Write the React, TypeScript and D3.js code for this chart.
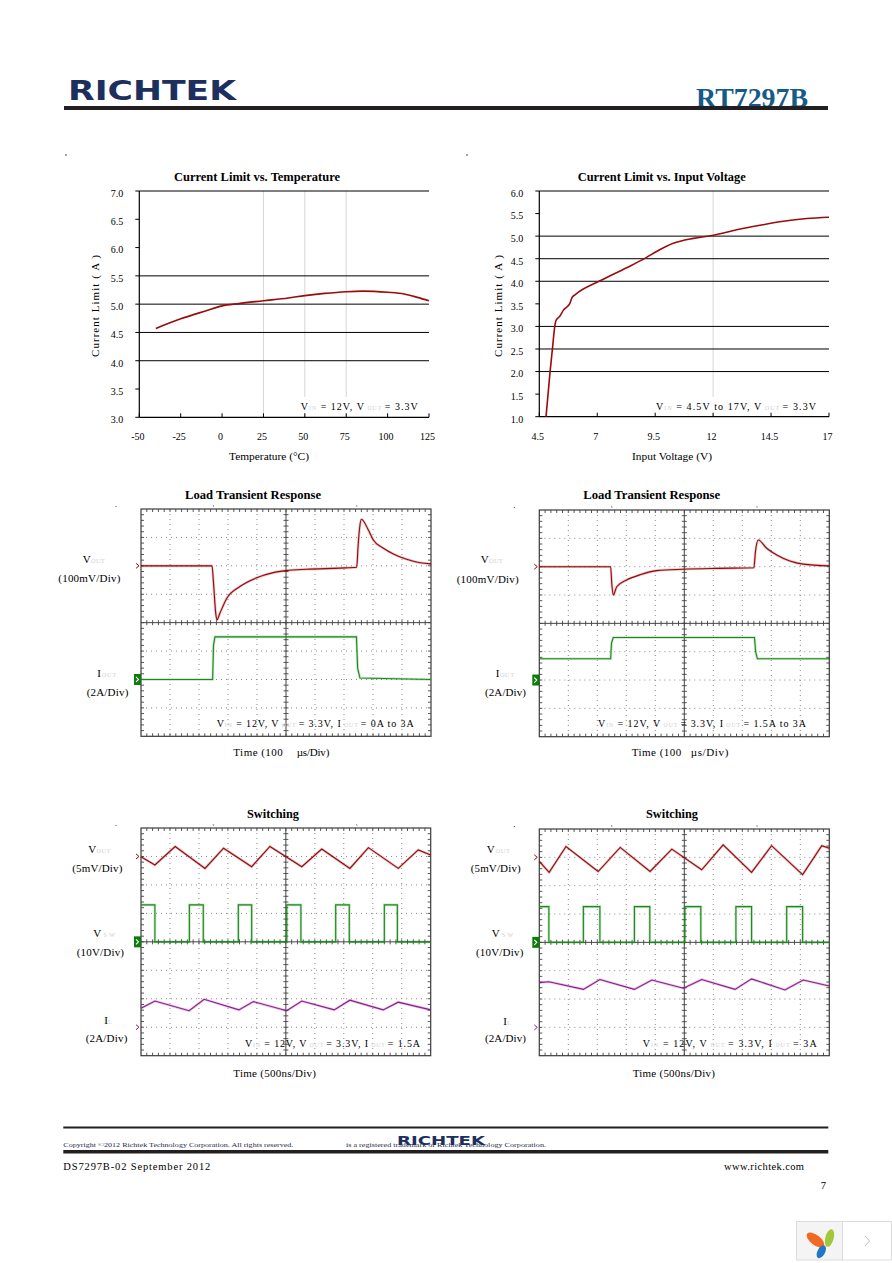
import React, { useEffect } from 'react';
import * as d3 from 'd3';

const SERIF = '"Liberation Serif", "Times New Roman", Times, serif';
const SANS = '"DejaVu Sans", "Liberation Sans", Arial, sans-serif';
const LIGHT = '#cfcfcf';

// ---------- Current Limit vs. Temperature ----------
const tempC = [-40, -25, -10, 0, 10, 25, 40, 50, 62, 75, 85, 100, 110, 118, 125];
const ilimVsTemp = [4.57, 4.74, 4.88, 4.97, 5.01, 5.06, 5.11, 5.15, 5.19, 5.22, 5.23, 5.21, 5.18, 5.12, 5.06];
const tempXTicks = [-50, -25, 0, 25, 50, 75, 100, 125];
const tempYTicks = [3.0, 3.5, 4.0, 4.5, 5.0, 5.5, 6.0, 6.5, 7.0];
const tempGridLevels = [4.0, 4.5, 5.0, 5.5];
const tempGridTemps = [25, 50, 75];

// ---------- Current Limit vs. Input Voltage ----------
const vinV = [4.79, 4.96, 5.08, 5.15, 5.22, 5.39, 5.54, 5.82, 5.91, 6.04, 7.12, 8.27, 9.13, 9.56, 10.28, 11.15, 12.01, 13.02, 14.02, 15.03, 16.04, 17.0];
const ilimVsVin = [1.0, 1.97, 2.57, 2.93, 3.13, 3.23, 3.36, 3.51, 3.64, 3.7, 4.01, 4.3, 4.53, 4.66, 4.84, 4.95, 5.02, 5.14, 5.24, 5.33, 5.39, 5.42];
const vinXTicks = [4.5, 7, 9.5, 12, 14.5, 17];
const vinYTicks = [1.0, 1.5, 2.0, 2.5, 3.0, 3.5, 4.0, 4.5, 5.0, 5.5, 6.0];
const vinGridLevels = [2.0, 2.5, 3.0, 4.0, 4.5, 5.0];
const vinGridVolts = [12];

// ---------- Scope traces: [time (div), level (div from bottom)] ----------
const lt1Vout = [[0, 6.0], [2.45, 6.0], [2.5, 5.4], [2.58, 4.3], [2.62, 4.1], [2.72, 4.33], [2.96, 4.86], [3.41, 5.27], [3.99, 5.58], [4.56, 5.76], [5.0, 5.83], [5.71, 5.88], [6.86, 5.92], [7.44, 5.95], [7.48, 6.6], [7.54, 7.35], [7.6, 7.64], [7.84, 7.26], [8.01, 6.91], [8.36, 6.62], [8.7, 6.42], [9.16, 6.23], [9.62, 6.11], [10, 6.07]];
const lt1Iout = [[0, 2.0], [2.47, 2.0], [2.5, 3.2], [2.55, 3.5], [7.43, 3.5], [7.47, 2.4], [7.55, 2.05], [10, 2.0]];
const lt2Vout = [[0, 6.0], [2.46, 6.0], [2.5, 5.4], [2.55, 5.0], [2.67, 5.29], [3.01, 5.53], [3.47, 5.71], [4.05, 5.86], [4.97, 5.91], [6.12, 5.94], [7.4, 5.96], [7.45, 6.5], [7.55, 6.94], [7.84, 6.65], [8.19, 6.41], [8.64, 6.2], [9.1, 6.09], [10, 6.03]];
const lt2Iout = [[0, 2.75], [2.46, 2.75], [2.49, 3.3], [2.55, 3.5], [7.42, 3.5], [7.46, 3.0], [7.52, 2.75], [10, 2.75]];

const sw1Vout = [[0, 6.99], [0.48, 6.7], [1.18, 7.35], [2.21, 6.58], [2.85, 7.29], [3.82, 6.64], [4.45, 7.35], [5.55, 6.64], [6.24, 7.26], [7.21, 6.58], [7.85, 7.31], [8.88, 6.58], [9.57, 7.23], [10, 7.05]];
const sw1Vsw = [[0, 5.3], [0.48, 4.0], [1.67, 5.3], [2.15, 4.0], [3.36, 5.3], [3.82, 4.0], [5.03, 5.3], [5.52, 4.0], [6.72, 5.3], [7.19, 4.0], [8.4, 5.3], [8.85, 4.0], [10, 4.0]];
const sw1IL = [[0, 1.67], [0.48, 1.92], [1.66, 1.58], [2.18, 1.98], [3.38, 1.61], [3.88, 1.9], [5.03, 1.58], [5.55, 1.92], [6.67, 1.61], [7.21, 1.95], [8.36, 1.61], [8.88, 1.88], [10, 1.61]];
const sw2Vout = [[0, 6.86], [0.34, 6.47], [0.92, 7.38], [2.03, 6.5], [2.79, 7.35], [3.82, 6.5], [4.57, 7.29], [5.6, 6.56], [6.34, 7.44], [7.32, 6.47], [8.01, 7.41], [9.08, 6.39], [9.74, 7.41], [10, 7.32]];
const sw2Vsw = [[0, 5.26], [0.33, 4.0], [1.52, 5.26], [2.09, 4.0], [3.28, 5.26], [3.81, 4.0], [5.02, 5.26], [5.57, 4.0], [6.78, 5.26], [7.32, 4.0], [8.53, 5.26], [9.08, 4.0], [10, 4.0]];
const sw2IL = [[0, 2.58], [0.33, 2.61], [1.52, 2.34], [2.09, 2.69], [3.28, 2.34], [3.88, 2.67], [4.97, 2.38], [5.6, 2.69], [6.75, 2.34], [7.32, 2.71], [8.47, 2.32], [9.1, 2.67], [10, 2.46]];

const RED = '#940a0a';
const GREEN = '#1b8a1b';
const PURPLE = '#8e1b8e';

type Part = [string, boolean];

function Lab({ x, y, parts, size = 11, len, anchor = 'start' }: any) {
  return (
    <text x={x} y={y} fontFamily={SERIF} fontSize={size} textAnchor={anchor}
      textLength={len} lengthAdjust={len ? 'spacing' : undefined}>
      {parts.map((p: Part, i: number) => (
        <tspan key={i} fill={p[1] ? LIGHT : '#000'} fontSize={p[1] ? size * 0.58 : size}>{p[0]}</tspan>
      ))}
    </text>
  );
}

function LineChart(p: any) {
  const x = d3.scaleLinear().domain(p.xDomain).range([p.left, p.right]);
  const y = d3.scaleLinear().domain(p.yDomain).range([p.bottom, p.top]);
  const pts = p.xData.map((v: number, i: number) => [v, p.yData[i]]);
  const line = d3.line().x((d: any) => x(d[0])).y((d: any) => y(d[1])).curve(p.curve);
  return (
    <g fontFamily={SERIF}>
      <text x={p.titleX} y={180.5} textAnchor="middle" fontSize={11.5} fontWeight="bold"
        textLength={p.titleLen} lengthAdjust="spacingAndGlyphs">{p.title}</text>
      {p.gridX.map((v: number) => (
        <line key={'gx' + v} x1={x(v)} x2={x(v)} y1={p.top} y2={p.bottom} stroke="#d6d6d6" strokeWidth={1} />
      ))}
      <rect x={p.annotX - 4} y={397} width={p.annotLen + 8} height={16} fill="#fff" />
      {p.gridY.map((v: number) => (
        <line key={'gy' + v} x1={p.left} x2={p.right} y1={y(v)} y2={y(v)} stroke="#000" strokeWidth={1} />
      ))}
      <line x1={p.left} x2={p.right} y1={p.top} y2={p.top} stroke="#000" strokeWidth={1} />
      <line x1={p.left} x2={p.left} y1={p.top} y2={p.bottom} stroke="#000" strokeWidth={1.2} />
      <line x1={p.left} x2={p.right} y1={p.bottom} y2={p.bottom} stroke="#000" strokeWidth={1.2} />
      {p.yTicks.map((v: number) => (
        <g key={'yt' + v}>
          <line x1={p.left - 4} x2={p.left} y1={y(v)} y2={y(v)} stroke="#000" />
          <text x={p.left - 16} y={y(v) + 5.8} fontSize={10} textAnchor="end">{d3.format('.1f')(v)}</text>
        </g>
      ))}
      {p.xTicks.map((v: number) => (
        <g key={'xt' + v}>
          <line x1={x(v)} x2={x(v)} y1={p.bottom - 4} y2={p.bottom} stroke="#000" />
          <text x={x(v) - 1.5} y={440.2} fontSize={10} textAnchor="middle">{String(v)}</text>
        </g>
      ))}
      <path d={line(pts) || ''} fill="none" stroke="#9a0b0b" strokeWidth={1.6} />
      <Lab x={p.annotX} y={410} size={10} len={p.annotLen} parts={p.annot} />
      <text transform={`translate(${p.yTitleX},306) rotate(-90)`} textAnchor="middle" fontSize={11}
        textLength={102} lengthAdjust="spacing">Current  Limit ( A )</text>
      <text x={p.xTitleX} y={460} textAnchor="middle" fontSize={11} textLength={80} lengthAdjust="spacingAndGlyphs">{p.xTitle}</text>
    </g>
  );
}

function Chevron({ x, y, color }: any) {
  return <polyline points={`${x - 5},${y - 2.5} ${x - 2},${y} ${x - 5},${y + 2.5}`} fill="none" stroke={color} strokeWidth={1} />;
}

function GreenBox({ x, y }: any) {
  return (
    <g>
      <rect x={x - 7} y={y - 5.5} width={7} height={11} fill="#0a7d0a" />
      <polyline points={`${x - 5},${y - 2.5} ${x - 2.5},${y} ${x - 5},${y + 2.5}`} fill="none" stroke="#fff" strokeWidth={1.1} />
    </g>
  );
}

function Scope(p: any) {
  const { left, top, w, h } = p;
  const x = d3.scaleLinear().domain([0, 10]).range([left, left + w]);
  const y = d3.scaleLinear().domain([0, 8]).range([top + h, top]);
  const line = d3.line().x((d: any) => x(d[0])).y((d: any) => y(d[1]));
  const divX = d3.range(1, 10);
  const divY = d3.range(1, 8);
  const minorX = d3.range(1, 50).map((i) => i / 5);
  const minorY = d3.range(1, 40).map((i) => i / 5);
  const cx = x(5), cy = y(4);
  return (
    <g>
      {divX.filter((i) => i !== 5).map((i) => (
        <line key={'dx' + i} x1={x(i)} x2={x(i)} y1={top} y2={top + h} stroke="#8a8a8a" strokeWidth={1} strokeDasharray="1 4" />
      ))}
      {divY.filter((i) => i !== 4).map((i) => (
        <line key={'dy' + i} x1={left} x2={left + w} y1={y(i)} y2={y(i)} stroke="#8a8a8a" strokeWidth={1} strokeDasharray="1 4" />
      ))}
      <rect x={left} y={top} width={w} height={h} fill="none" stroke="#3a3a3a" strokeWidth={1.2} />
      <line x1={cx} x2={cx} y1={top} y2={top + h} stroke="#444" strokeWidth={1} />
      <line x1={left} x2={left + w} y1={cy} y2={cy} stroke="#444" strokeWidth={1} />
      {minorX.map((t) => (
        <g key={'mx' + t} stroke="#444" strokeWidth={0.9}>
          <line x1={x(t)} x2={x(t)} y1={top} y2={top + 3} />
          <line x1={x(t)} x2={x(t)} y1={top + h - 3} y2={top + h} />
          <line x1={x(t)} x2={x(t)} y1={cy - 2.5} y2={cy + 2.5} />
        </g>
      ))}
      {minorY.map((t) => (
        <g key={'my' + t} stroke="#444" strokeWidth={0.9}>
          <line x1={left} x2={left + 3} y1={y(t)} y2={y(t)} />
          <line x1={left + w - 3} x2={left + w} y1={y(t)} y2={y(t)} />
          <line x1={cx - 2.5} x2={cx + 2.5} y1={y(t)} y2={y(t)} />
        </g>
      ))}
      {p.traces.map((tr: any, i: number) => {
        const gen = line.curve(tr.step ? d3.curveStepAfter : tr.smooth ? d3.curveMonotoneX : d3.curveLinear);
        const d = gen(tr.data) || '';
        return (
          <g key={'tr' + i}>
            <path d={d} fill="none" stroke={tr.color} strokeOpacity={0.25} strokeWidth={2.6} />
            <path d={d} fill="none" stroke={tr.color} strokeWidth={1.1} />
          </g>
        );
      })}
      {p.markers.map((m: any, i: number) =>
        m.box ? <GreenBox key={'mk' + i} x={left} y={y(m.level)} /> : <Chevron key={'mk' + i} x={left} y={y(m.level)} color={m.color} />
      )}
      {p.trig.map((t: number, i: number) => (
        <line key={'tg' + i} x1={x(t)} x2={x(t) + 0.5} y1={top - 4} y2={top - 2} stroke="#999" />
      ))}
      <circle cx={left - 25} cy={top - 2.5} r={0.6} fill="#333" />
    </g>
  );
}

export default function App() {
  useEffect(() => {
    document.body.style.margin = '0';
  }, []);
  const sub = (s: string): Part => [s, true];
  const n = (s: string): Part => [s, false];
  return (
    <svg width={892} height={1263} viewBox="0 0 892 1263" xmlns="http://www.w3.org/2000/svg"
      style={{ position: 'absolute', left: 0, top: 0, display: 'block' }}>
      <rect width={892} height={1263} fill="#fff" />
      {/* Header */}
      <text x={68} y={99.5} fontFamily={SANS} fontWeight="bold" fontSize={26} fill="#1c2f5e"
        textLength={168} lengthAdjust="spacingAndGlyphs">RICHTEK</text>
      <text x={696} y={106.5} fontFamily={SERIF} fontWeight="bold" fontSize={27} fill="#155b88"
        textLength={112} lengthAdjust="spacingAndGlyphs">RT7297B</text>
      <rect x={64} y={106} width={764} height={4} fill="#231f20" />
      <circle cx={66} cy={155} r={0.7} fill="#000" />
      <circle cx={467} cy={155} r={0.7} fill="#000" />

      <LineChart left={139.3} right={429} top={191} bottom={417.3} xDomain={[-50, 125]} yDomain={[3, 7]}
        xData={tempC} yData={ilimVsTemp} curve={d3.curveMonotoneX}
        xTicks={tempXTicks} yTicks={tempYTicks} gridY={tempGridLevels} gridX={tempGridTemps}
        title="Current Limit vs. Temperature" titleX={257} titleLen={166}
        xTitle="Temperature (°C)" xTitleX={269} yTitleX={99}
        annotX={300.7} annotLen={117}
        annot={[n('V'), sub('IN'), n(' = 12V, V'), sub('  OUT  '), n(' = 3.3V')]} />

      <LineChart left={539.3} right={829} top={191} bottom={416.7} xDomain={[4.5, 17]} yDomain={[1, 6]}
        xData={vinV} yData={ilimVsVin} curve={d3.curveMonotoneX}
        xTicks={vinXTicks} yTicks={vinYTicks} gridY={vinGridLevels} gridX={vinGridVolts}
        title="Current Limit vs. Input Voltage" titleX={661.7} titleLen={168}
        xTitle="Input Voltage (V)" xTitleX={672} yTitleX={502}
        annotX={656} annotLen={160}
        annot={[n('V'), sub('IN'), n(' = 4.5V to 17V, V'), sub('    OUT  '), n(' = 3.3V')]} />

      <g fontFamily={SERIF}>
        <text x={253} y={498.8} textAnchor="middle" fontSize={11.5} fontWeight="bold" textLength={136} lengthAdjust="spacingAndGlyphs">Load Transient Response</text>
        <text x={651.7} y={498.8} textAnchor="middle" fontSize={11.5} fontWeight="bold" textLength={137} lengthAdjust="spacingAndGlyphs">Load Transient Response</text>
        <text x={273} y={817.8} textAnchor="middle" fontSize={11.5} fontWeight="bold" textLength={52} lengthAdjust="spacingAndGlyphs">Switching</text>
        <text x={672} y={817.8} textAnchor="middle" fontSize={11.5} fontWeight="bold" textLength={52} lengthAdjust="spacingAndGlyphs">Switching</text>
      </g>

      <Scope left={141} top={509} w={290} h={227.3}
        traces={[{ data: lt1Vout, color: RED, smooth: true }, { data: lt1Iout, color: GREEN }]}
        markers={[{ level: 6, color: RED }, { level: 2, box: true }]} trig={[2.49, 7.43]} />
      <Scope left={539.3} top={510} w={290} h={226.7}
        traces={[{ data: lt2Vout, color: RED, smooth: true }, { data: lt2Iout, color: GREEN }]}
        markers={[{ level: 6, color: RED }, { level: 2, box: true }]} trig={[2.49, 7.5]} />
      <Scope left={141} top={828} w={289.7} h={227.7}
        traces={[{ data: sw1Vout, color: RED }, { data: sw1Vsw, color: GREEN, step: true }, { data: sw1IL, color: PURPLE }]}
        markers={[{ level: 7, color: RED }, { level: 4, box: true }, { level: 1, color: PURPLE }]} trig={[2.49, 7.44]} />
      <Scope left={539.3} top={829} w={290} h={226.7}
        traces={[{ data: sw2Vout, color: RED }, { data: sw2Vsw, color: GREEN, step: true }, { data: sw2IL, color: PURPLE }]}
        markers={[{ level: 7, color: RED }, { level: 4, box: true }, { level: 1, color: PURPLE }]} trig={[2.49, 7.5]} />

      {/* Scope side labels */}
      <Lab x={82.7} y={563} parts={[n('V'), sub('OUT')]} len={22} />
      <Lab x={58.3} y={581.5} parts={[n('(100mV/Div)')]} len={62} />
      <Lab x={97.3} y={676.5} parts={[n('I'), sub('OUT')]} len={19} />
      <Lab x={86.7} y={695.5} parts={[n('(2A/Div)')]} len={41.6} />
      <Lab x={480.7} y={563} parts={[n('V'), sub('OUT')]} len={22} />
      <Lab x={456.7} y={582.5} parts={[n('(100mV/Div)')]} len={62} />
      <Lab x={495.7} y={676.5} parts={[n('I'), sub('OUT')]} len={18.5} />
      <Lab x={485} y={695.5} parts={[n('(2A/Div)')]} len={41} />

      <Lab x={88.3} y={853} parts={[n('V'), sub('OUT')]} len={22} />
      <Lab x={72.3} y={872} parts={[n('(5mV/Div)')]} len={50} />
      <Lab x={93.3} y={937} parts={[n('V'), sub('SW')]} len={21.7} />
      <Lab x={76.7} y={956.3} parts={[n('(10V/Div)')]} len={47.3} />
      <Lab x={104.3} y={1023.5} parts={[n('I'), sub('L')]} />
      <Lab x={85.7} y={1042} parts={[n('(2A/Div)')]} len={41.6} />
      <Lab x={486.7} y={853} parts={[n('V'), sub('OUT')]} len={23.3} />
      <Lab x={470.7} y={872} parts={[n('(5mV/Div)')]} len={50} />
      <Lab x={491.7} y={937} parts={[n('V'), sub('SW')]} len={21.7} />
      <Lab x={476} y={956.3} parts={[n('(10V/Div)')]} len={47.3} />
      <Lab x={503.3} y={1024.5} parts={[n('I'), sub('L')]} />
      <Lab x={485} y={1042} parts={[n('(2A/Div)')]} len={41} />

      {/* Scope annotations */}
      <Lab x={216.7} y={727} size={10} len={197}
        parts={[n('V'), sub('IN'), n(' = 12V, V'), sub('   OUT  '), n(' = 3.3V, I'), sub('   OUT  '), n(' = 0A to 3A')]} />
      <Lab x={598} y={727} size={10} len={208}
        parts={[n('V'), sub('IN'), n(' = 12V, V'), sub('   OUT  '), n(' = 3.3V, I'), sub('   OUT  '), n(' = 1.5A to 3A')]} />
      <Lab x={245} y={1047} size={10} len={175}
        parts={[n('V'), sub('IN'), n(' = 12V, V'), sub('  OUT  '), n(' = 3.3V, I'), sub('  OUT  '), n(' = 1.5A')]} />
      <Lab x={642.7} y={1047} size={10} len={174}
        parts={[n('V'), sub('IN'), n(' = 12V, V'), sub('  OUT  '), n(' = 3.3V, I'), sub('  OUT  '), n(' = 3A')]} />

      <Lab x={233.3} y={755.5} parts={[n('Time (100')]} len={49.5} />
      <Lab x={296.7} y={755.5} parts={[n('µs/Div)')]} len={32.6} />
      <Lab x={631.7} y={756} parts={[n('Time (100')]} len={49.5} />
      <Lab x={690.7} y={756} parts={[n('µs/Div)')]} len={37.6} />
      <Lab x={233.3} y={1077} parts={[n('Time (500ns/Div)')]} len={82.7} />
      <Lab x={632.7} y={1077} parts={[n('Time (500ns/Div)')]} len={82.3} />

      {/* Footer */}
      <rect x={63.3} y={1126.5} width={765} height={2} fill="#231f20" />
      <text x={63.3} y={1147} fontFamily={SERIF} fontSize={6.5} fill="#1e2a4a" textLength={230} lengthAdjust="spacingAndGlyphs">Copyright ©2012 Richtek Technology Corporation. All rights reserved.</text>
      <text x={346} y={1147} fontFamily={SERIF} fontSize={6.5} fill="#1e2a4a" textLength={200} lengthAdjust="spacingAndGlyphs">is a registered trademark of Richtek Technology Corporation.</text>
      <text x={397} y={1144.5} fontFamily={SANS} fontWeight="bold" fontSize={12.5} fill="#1c2f5e" textLength={88} lengthAdjust="spacingAndGlyphs">RICHTEK</text>
      <rect x={63.3} y={1150} width={765} height={3.5} fill="#231f20" />
      <text x={63.3} y={1169.5} fontFamily={SERIF} fontSize={10.5} textLength={147} lengthAdjust="spacing">DS7297B-02  September  2012</text>
      <text x={724} y={1170} fontFamily={SERIF} fontSize={10.5} textLength={80} lengthAdjust="spacing">www.richtek.com</text>
      <text x={823.3} y={1188.5} fontFamily={SERIF} fontSize={10.5} textAnchor="middle">7</text>

      {/* bottom-right widget */}
      <rect x={796.5} y={1221.5} width={46} height={38.5} fill="#f4f4f4" stroke="#dcdcdc" />
      <rect x={842.5} y={1221.5} width={49} height={38.5} fill="#fff" stroke="#dcdcdc" />
      <ellipse cx={815.5} cy={1240} rx={10.5} ry={5} fill="#f06a24" transform="rotate(38 815.5 1240)" />
      <ellipse cx={829.5} cy={1238} rx={9} ry={4.2} fill="#a2c83a" transform="rotate(-75 829.5 1238)" />
      <ellipse cx={821.3} cy={1251.7} rx={7} ry={3.8} fill="#2277c4" transform="rotate(-62 821.3 1251.7)" />
      <polyline points="865,1236 869.5,1241 865,1246" fill="none" stroke="#c0c0c0" strokeWidth={1} />
    </svg>
  );
}
